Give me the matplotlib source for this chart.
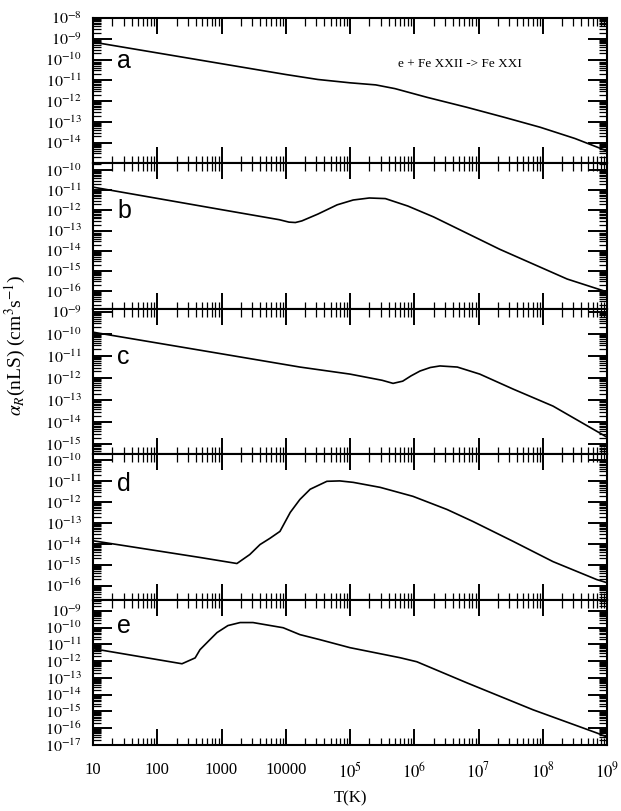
import numpy as np
import matplotlib
matplotlib.use('Agg')
import matplotlib.pyplot as plt
from matplotlib.ticker import LogLocator, NullFormatter

plt.rcParams['font.family'] = ['Liberation Serif', 'DejaVu Serif']
plt.rcParams['mathtext.fontset'] = 'stix'

# values, as log10(T) and log10(alpha)
logT_a = [1.0, 2.0, 3.0, 4.0, 4.5, 5.0, 5.4, 5.7, 6.2, 6.82, 7.4, 7.96, 8.5, 9.0]
logA_a = [-9.16, -9.68, -10.20, -10.72, -10.96, -11.12, -11.22, -11.40, -11.82, -12.30, -12.78, -13.26, -13.80, -14.40]

logT_b = [1.0, 2.0, 3.0, 3.9, 4.05, 4.15, 4.25, 4.5, 4.8, 5.05, 5.3, 5.55, 5.9, 6.3, 7.33, 8.38, 9.0]
logA_b = [-10.84, -11.40, -11.96, -12.46, -12.58, -12.60, -12.52, -12.18, -11.72, -11.48, -11.38, -11.41, -11.78, -12.32, -13.93, -15.41, -16.05]

logT_c = [1.0, 2.0, 3.0, 4.22, 5.0, 5.5, 5.67, 5.82, 5.95, 6.09, 6.25, 6.40, 6.67, 7.02, 7.54, 8.16, 8.84, 9.0]
logA_c = [-9.92, -10.41, -10.90, -11.50, -11.82, -12.10, -12.24, -12.14, -11.90, -11.68, -11.52, -11.45, -11.50, -11.82, -12.50, -13.27, -14.41, -14.68]

logT_d = [1.0, 2.0, 2.665, 3.24, 3.44, 3.60, 3.75, 3.91, 4.07, 4.22, 4.38, 4.64, 4.84, 5.05, 5.47, 5.98, 6.51, 6.91, 7.54, 8.16, 8.84, 9.0]
logA_d = [-13.85, -14.33, -14.65, -14.94, -14.51, -14.03, -13.74, -13.40, -12.49, -11.87, -11.38, -11.00, -10.98, -11.05, -11.29, -11.72, -12.35, -12.92, -13.88, -14.85, -15.71, -15.86]

logT_e = [1.0, 2.0, 2.385, 2.59, 2.665, 2.82, 2.93, 3.10, 3.29, 3.49, 3.96, 4.22, 4.53, 5.0, 5.78, 6.04, 6.82, 7.85, 8.84, 9.0]
logA_e = [-11.25, -11.90, -12.15, -11.80, -11.31, -10.71, -10.29, -9.87, -9.69, -9.69, -10.00, -10.41, -10.71, -11.19, -11.79, -12.03, -13.29, -14.90, -16.28, -16.52]

letters = ['a', 'b', 'c', 'd', 'e']
curves = [(logT_a, logA_a), (logT_b, logA_b), (logT_c, logA_c), (logT_d, logA_d), (logT_e, logA_e)]

# y ranges (log10) and the decade labels shown in each panel
ylims = [(-15.0, -8.0), (-16.89, -9.66), (-15.45, -8.86), (-16.67, -9.70), (-17.0, -8.32)]
ydecades = [range(-8, -15, -1), range(-10, -17, -1), range(-9, -16, -1),
            range(-10, -17, -1), range(-9, -18, -1)]

xticks = [10.0**k for k in range(1, 10)]
xticklabels = ['10', '100', '1000', '10000', r'$10^5$', r'$10^6$', r'$10^7$', r'$10^8$', r'$10^9$']

letter_y = [0.655, 0.626, 0.621, 0.745, 0.772]

fig = plt.figure(figsize=(6.21, 8.11), dpi=100)
gs = fig.add_gridspec(5, 1, left=93/621, right=607/621, top=1-18/811, bottom=1-745/811, hspace=0)

axes = []
for i in range(5):
    ax = fig.add_subplot(gs[i])
    axes.append(ax)
    lt, la = curves[i]
    ax.plot(10.0**np.array(lt), 10.0**np.array(la), color='black', lw=1.2)
    ax.set_xscale('log')
    ax.set_yscale('log')
    ax.set_xlim(10, 1e9)
    ax.set_ylim(10**ylims[i][0], 10**ylims[i][1])

    ax.set_xticks(xticks)
    ax.xaxis.set_minor_locator(LogLocator(base=10, subs=np.arange(2, 10), numticks=100))
    ax.xaxis.set_minor_formatter(NullFormatter())
    ax.set_yticks([10.0**e for e in ydecades[i]])
    ax.set_yticklabels([rf'$10^{{{e}}}$' for e in ydecades[i]])
    ax.yaxis.set_minor_locator(LogLocator(base=10, subs=np.arange(2, 10), numticks=100))
    ax.yaxis.set_minor_formatter(NullFormatter())

    ax.tick_params(which='both', direction='in', top=True, right=True)
    ax.tick_params(axis='x', which='major', length=11.5, width=1.4)
    ax.tick_params(axis='x', which='minor', length=5.4, width=0.9)
    ax.tick_params(axis='y', which='major', length=13.5, width=1.4)
    ax.tick_params(axis='y', which='minor', length=5.5, width=0.9)
    ax.tick_params(axis='y', labelsize=11.5, pad=8)
    if i < 4:
        ax.tick_params(axis='x', labelbottom=False)
    else:
        ax.set_xticklabels(xticklabels)
        ax.tick_params(axis='x', labelsize=12, pad=12)
    for sp in ax.spines.values():
        sp.set_linewidth(1.5)

    ax.text(0.047, letter_y[i], letters[i], transform=ax.transAxes, fontsize=18,
            family='Liberation Sans', ha='left', va='baseline')

axes[0].text(0.714, 0.662, 'e + Fe XXII -> Fe XXI', transform=axes[0].transAxes,
             fontsize=9.5, ha='center', va='baseline')

axes[-1].set_xlabel('T(K)', fontsize=12, labelpad=6)
fig.text(15/621, 1-345/811, r'$\alpha_R$(nLS) (cm$^3$s$^{-1}$)', rotation=90,
         fontsize=14, ha='center', va='center')

fig.savefig('out.png', dpi=100)
